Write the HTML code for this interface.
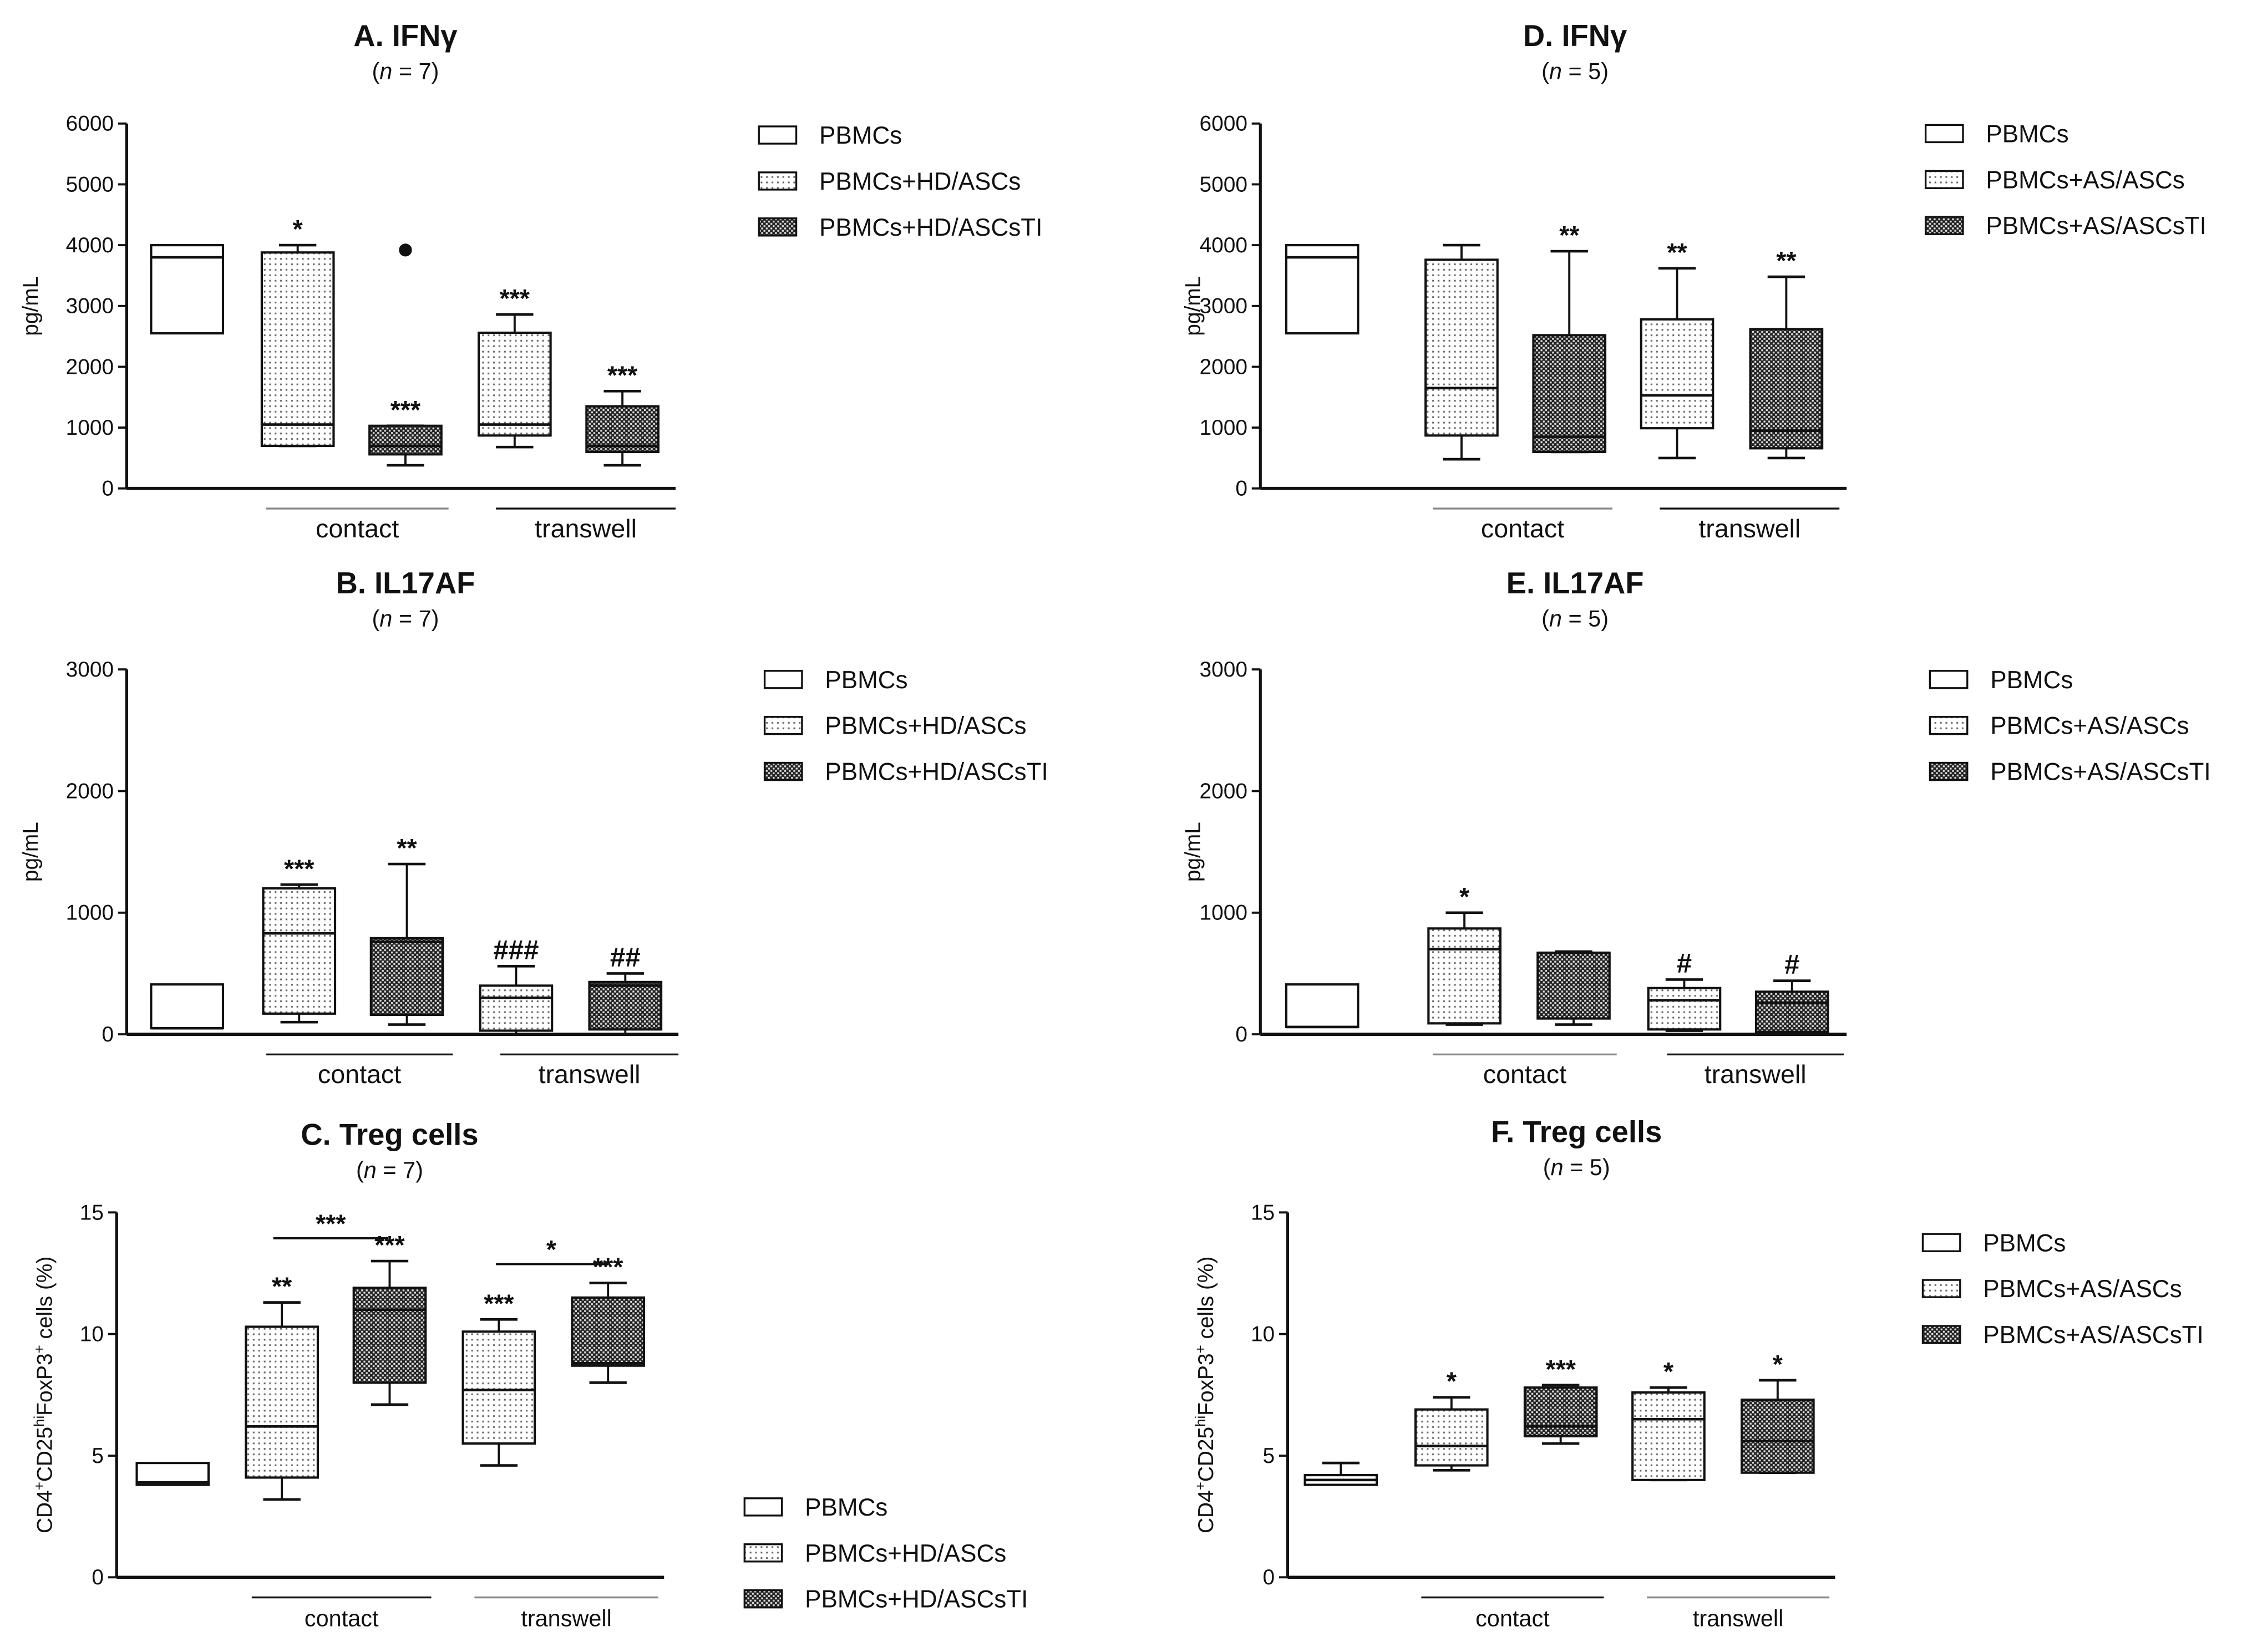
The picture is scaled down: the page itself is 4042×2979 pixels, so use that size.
<!DOCTYPE html>
<html><head><meta charset="utf-8"><style>
html,body{margin:0;padding:0;background:#fff}
svg{display:block}
text{font-family:"Liberation Sans",Arial,sans-serif;fill:#111}
</style></head><body>
<svg id="fig" xmlns="http://www.w3.org/2000/svg" width="4042" height="2979" viewBox="0 0 1560 1150">
<defs>
<pattern id="dots" width="3.8" height="3.8" patternUnits="userSpaceOnUse"><rect width="3.8" height="3.8" fill="#fff"/><rect x="1" y="1" width="1.2" height="1.2" fill="#666"/></pattern>
<pattern id="check" width="3.2" height="3.2" patternUnits="userSpaceOnUse"><rect width="3.2" height="3.2" fill="#222"/><rect x="0" y="0" width="1.3" height="1.3" fill="#ddd"/><rect x="1.6" y="1.6" width="1.3" height="1.3" fill="#ddd"/></pattern>
</defs>
</svg>
<script>
// Panel A IFNγ HD (n=7)
const aCats=["PBMCs","contact HD/ASCs","contact HD/ASCsTI","transwell HD/ASCs","transwell HD/ASCsTI"];
const aLow=[2550,700,380,680,380];
const aQ1=[2550,700,560,870,600];
const aMed=[3800,1050,700,1050,700];
const aQ3=[4000,3880,1030,2560,1350];
const aHigh=[4000,4000,1030,2860,1600];
const aStars=["","*","***","***","***"];
// Panel D IFNγ AS (n=5)
const dLow=[2550,480,600,500,500];
const dQ1=[2550,870,600,990,660];
const dMed=[3800,1650,850,1530,950];
const dQ3=[4000,3760,2520,2780,2620];
const dHigh=[4000,4000,3900,3620,3480];
const dStars=["","","**","**","**"];
// Panel B IL17AF HD
const bLow=[50,100,80,0,0];
const bQ1=[50,170,160,30,40];
const bMed=[50,830,760,300,400];
const bQ3=[410,1200,790,400,430];
const bHigh=[410,1230,1400,560,500];
const bStars=["","***","**","###","##"];
// Panel E IL17AF AS
const eLow=[60,80,80,30,0];
const eQ1=[60,90,130,40,20];
const eMed=[60,700,670,280,260];
const eQ3=[410,870,670,380,350];
const eHigh=[410,1000,680,450,440];
const eStars=["","*","","#","#"];
// Panel C Treg HD
const cLow=[3.8,3.2,7.1,4.6,8.0];
const cQ1=[3.8,4.1,8.0,5.5,8.7];
const cMed=[3.9,6.2,11.0,7.7,8.8];
const cQ3=[4.7,10.3,11.9,10.1,11.5];
const cHigh=[4.7,11.3,13.0,10.6,12.1];
const cStars=["","**","***","***","***"];
// Panel F Treg AS
const fLow=[3.8,4.4,5.5,4.0,4.3];
const fQ1=[3.8,4.6,5.8,4.0,4.3];
const fMed=[4.0,5.4,6.2,6.5,5.6];
const fQ3=[4.2,6.9,7.8,7.6,7.3];
const fHigh=[4.7,7.4,7.9,7.8,8.1];
const fStars=["","*","***","*","*"];
const ifnTicks=[0,1000,2000,3000,4000,5000,6000];
const ilTicks=[0,1000,2000,3000];
const tregTicks=[0,5,10,15];

const NS="http://www.w3.org/2000/svg";
const svg=document.getElementById('fig');
function mk(tag,attrs,parent,txt){const e=document.createElementNS(NS,tag);for(const k in attrs)e.setAttribute(k,attrs[k]);if(txt!==undefined)e.textContent=txt;(parent||svg).appendChild(e);return e;}
const fills=["#fff","url(#dots)","url(#check)","url(#dots)","url(#check)"];

function panel(cfg){
  const g=mk('g',{});
  
  
  const y=v=>cfg.y0-(v/cfg.max)*(cfg.y0-cfg.yTop);
  const t=mk('text',{x:cfg.tx,y:cfg.ty,'text-anchor':'middle','font-size':21,'font-weight':'bold'},g,cfg.title);
  
  const n=mk('text',{x:cfg.tx,y:cfg.ty+23,'text-anchor':'middle','font-size':16},g);
  
  n.innerHTML='(<tspan font-style="italic">n</tspan> = '+cfg.n+')';
  const ya=mk('line',{x1:cfg.ax,y1:cfg.yTop,x2:cfg.ax,y2:cfg.y0,stroke:'#111','stroke-width':2},g);
  
  const xa=mk('line',{x1:cfg.ax,y1:cfg.y0,x2:cfg.axEnd,y2:cfg.y0,stroke:'#111','stroke-width':2.2},g);
  
  cfg.ticks.forEach(v=>{
    mk('line',{x1:cfg.ax-6,y1:y(v),x2:cfg.ax,y2:y(v),stroke:'#111','stroke-width':1.5},g);
    const tl=mk('text',{x:cfg.ax-9,y:y(v)+5,'text-anchor':'end','font-size':15},g,String(v));
    
  });
  const yl=mk('text',{x:0,y:0,'text-anchor':'middle','font-size':15,transform:`translate(${cfg.ylx},${(cfg.y0+cfg.yTop)/2}) rotate(-90)`},g);
  
  yl.innerHTML=cfg.ylabel;
  cfg.low.forEach((_,i)=>{
    const x=cfg.bx[i],w=50,cx=x+w/2;
    const bg=mk('g',{},g);
    
    
    if(cfg.high[i]>cfg.q3[i]){mk('line',{x1:cx,y1:y(cfg.q3[i]),x2:cx,y2:y(cfg.high[i]),stroke:'#111','stroke-width':1.5},bg);}
    if(i>0||cfg.high[i]>cfg.q3[i])mk('line',{x1:cx-13,y1:y(cfg.high[i]),x2:cx+13,y2:y(cfg.high[i]),stroke:'#111','stroke-width':1.8},bg);
    if(cfg.low[i]<cfg.q1[i]){mk('line',{x1:cx,y1:y(cfg.q1[i]),x2:cx,y2:y(cfg.low[i]),stroke:'#111','stroke-width':1.5},bg);}
    if(i>0)mk('line',{x1:cx-13,y1:y(cfg.low[i]),x2:cx+13,y2:y(cfg.low[i]),stroke:'#111','stroke-width':1.8},bg);
    mk('rect',{x:x,y:y(cfg.q3[i]),width:w,height:y(cfg.q1[i])-y(cfg.q3[i]),fill:fills[i],stroke:'#111','stroke-width':1.6},bg);
    mk('line',{x1:x,y1:y(cfg.med[i]),x2:x+w,y2:y(cfg.med[i]),stroke:'#111','stroke-width':1.8},bg);
    if(cfg.stars[i]){
      const st=mk('text',{x:cx,y:y(cfg.high[i])-5,'text-anchor':'middle','font-size':cfg.stars[i][0]=='#'?19:18,'font-weight':'bold'},bg,cfg.stars[i]);
      
    }
  });
  if(cfg.outlier){const o=mk('circle',{cx:cfg.bx[cfg.outlier[0]]+25,cy:y(cfg.outlier[1]),r:4.5,fill:'#111'},g);
    }
  cfg.groups.forEach(gr=>{
    mk('line',{x1:gr[0],y1:cfg.y0+14,x2:gr[1],y2:cfg.y0+14,stroke:gr[3]||'#111','stroke-width':1.3},g);
    const gl=mk('text',{x:(gr[0]+gr[1])/2,y:cfg.y0+34,'text-anchor':'middle','font-size':cfg.gfs||18},g,gr[2]);
    
  });
  (cfg.brackets||[]).forEach(b=>{
    mk('line',{x1:b[0],y1:b[2],x2:b[1],y2:b[2],stroke:'#111','stroke-width':1.5},g);
    const bl=mk('text',{x:(b[0]+b[1])/2,y:b[2]-4,'text-anchor':'middle','font-size':18,'font-weight':'bold'},g,b[3]);
    
  });
  const lg=mk('g',{},g);
  
  cfg.legend.forEach((lab,i)=>{
    const ly=cfg.ly+i*32;
    mk('rect',{x:cfg.lx,y:ly-6,width:26,height:12,fill:fills[i],stroke:'#111','stroke-width':1.3},lg);
    const lt=mk('text',{x:cfg.lx+42,y:ly+6,'font-size':17},lg,lab);
    
  });
}
const pg='pg/mL';
const treg='CD4<tspan baseline-shift="super" font-size="10">+</tspan>CD25<tspan baseline-shift="super" font-size="10">hi</tspan>FoxP3<tspan baseline-shift="super" font-size="10">+</tspan> cells (%)';
panel({name:'panel-a-ifng',title:'A. IFNγ',n:7,tx:282,ty:32,ax:88,axEnd:470,y0:340,yTop:86,max:6000,ticks:ifnTicks,ylx:26,ylabel:pg,cats:aCats,
 bx:[105,182,257,333,408],low:aLow,q1:aQ1,med:aMed,q3:aQ3,high:aHigh,stars:aStars,outlier:[2,3920],
 groups:[[185,312,'contact','#888'],[345,470,'transwell']],legend:['PBMCs','PBMCs+HD/ASCs','PBMCs+HD/ASCsTI'],lx:528,ly:94});
panel({name:'panel-d-ifng',title:'D. IFNγ',n:5,tx:1096,ty:32,ax:877,axEnd:1285,y0:340,yTop:86,max:6000,ticks:ifnTicks,ylx:835,ylabel:pg,cats:aCats,
 bx:[895,992,1067,1142,1218],low:dLow,q1:dQ1,med:dMed,q3:dQ3,high:dHigh,stars:dStars,
 groups:[[997,1122,'contact','#888'],[1155,1280,'transwell']],legend:['PBMCs','PBMCs+AS/ASCs','PBMCs+AS/ASCsTI'],lx:1340,ly:93});
panel({name:'panel-b-il17af',title:'B. IL17AF',n:7,tx:282,ty:413,ax:88,axEnd:472,y0:720,yTop:466,max:3000,ticks:ilTicks,ylx:26,ylabel:pg,cats:aCats,
 bx:[105,183,258,334,410],low:bLow,q1:bQ1,med:bMed,q3:bQ3,high:bHigh,stars:bStars,
 groups:[[185,315,'contact'],[348,472,'transwell']],legend:['PBMCs','PBMCs+HD/ASCs','PBMCs+HD/ASCsTI'],lx:532,ly:473});
panel({name:'panel-e-il17af',title:'E. IL17AF',n:5,tx:1096,ty:413,ax:877,axEnd:1285,y0:720,yTop:466,max:3000,ticks:ilTicks,ylx:835,ylabel:pg,cats:aCats,
 bx:[895,994,1070,1147,1222],low:eLow,q1:eQ1,med:eMed,q3:eQ3,high:eHigh,stars:eStars,
 groups:[[997,1125,'contact','#888'],[1160,1283,'transwell']],legend:['PBMCs','PBMCs+AS/ASCs','PBMCs+AS/ASCsTI'],lx:1343,ly:473});
panel({name:'panel-c-treg',title:'C. Treg cells',n:7,tx:271,ty:797,ax:81,axEnd:462,y0:1098,yTop:844,max:15,ticks:tregTicks,ylx:36,ylabel:treg,cats:aCats,gfs:16,
 bx:[95,171,246,322,398],low:cLow,q1:cQ1,med:cMed,q3:cQ3,high:cHigh,stars:cStars,
 brackets:[[190,270,862,'***'],[345,422,880,'*']],
 groups:[[175,300,'contact'],[330,458,'transwell','#888']],legend:['PBMCs','PBMCs+HD/ASCs','PBMCs+HD/ASCsTI'],lx:518,ly:1049});
panel({name:'panel-f-treg',title:'F. Treg cells',n:5,tx:1097,ty:795,ax:896,axEnd:1277,y0:1098,yTop:844,max:15,ticks:tregTicks,ylx:844,ylabel:treg,cats:aCats,gfs:16,
 bx:[908,985,1061,1136,1212],low:fLow,q1:fQ1,med:fMed,q3:fQ3,high:fHigh,stars:fStars,
 groups:[[989,1116,'contact'],[1146,1273,'transwell','#888']],legend:['PBMCs','PBMCs+AS/ASCs','PBMCs+AS/ASCsTI'],lx:1338,ly:865});
</script>
</body></html>
